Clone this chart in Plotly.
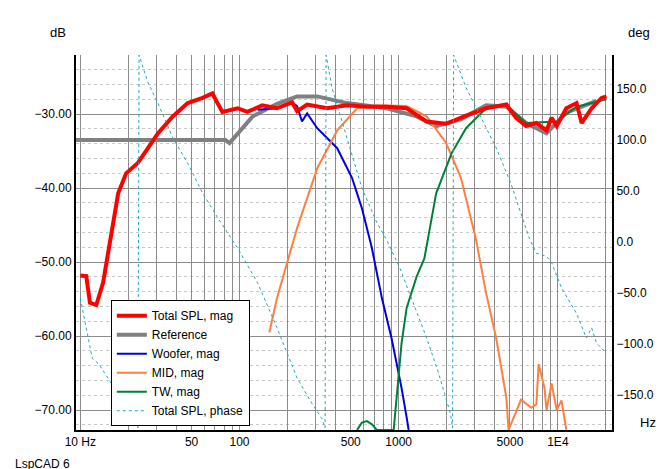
import plotly.graph_objects as go

# frequencies in Hz, levels in dB, phase in degrees
total_f = [10, 10.9, 11.5, 12.6, 13.9, 14.9, 16.1, 17.3, 19.4, 23.0, 26.6, 30.7, 38.1, 47.3, 58.6, 67.6,
           72.8, 78.1, 97.3, 112, 139, 172, 214, 230, 266, 356, 473, 631, 841, 1122, 1499, 1985,
           2650, 3540, 4750, 5460, 6320, 7330, 8480, 9130, 9830, 11300, 13100, 14100, 16300, 18800, 20200]
total_db = [-51.8, -51.9, -55.5, -55.8, -52.8, -48.8, -44.0, -40.7, -38.0, -36.6, -34.6, -32.6, -30.3,
            -28.5, -27.8, -27.2, -28.5, -29.7, -29.2, -29.7, -28.8, -29.2, -28.4, -29.6, -28.7, -29.2,
            -28.8, -29.0, -29.0, -29.2, -31.0, -31.3, -30.2, -29.2, -28.7, -30.5, -31.6, -31.2, -32.2,
            -30.5, -31.6, -29.2, -28.5, -31.2, -29.2, -27.8, -27.6]

ref_f = [9.4, 81.6, 86.6, 121, 172, 230, 308, 473, 841, 1295, 1720, 2460, 3540, 4750, 6320, 8480, 11300, 17500]
ref_db = [-33.5, -33.5, -33.9, -30.3, -28.6, -27.6, -27.6, -28.5, -29.2, -30.3, -31.6, -30.7, -28.8,
          -29.0, -31.2, -32.6, -29.8, -28.2]

woofer_f = [130, 172, 214, 230, 247, 266, 308, 411, 509, 587, 677, 785, 902, 1042, 1122, 1155]
woofer_db = [-29.4, -29.2, -28.4, -28.9, -31.0, -29.9, -31.9, -34.6, -38.6, -42.7, -48.0, -54.9,
             -60.3, -67.0, -71.0, -72.7]

mid_f = [154, 172, 230, 308, 411, 548, 729, 1122, 1499, 1985, 2460, 3050, 3540, 4100, 4750, 4900,
         5870, 6320, 6810, 7330, 7570, 8240, 8480, 9130, 9830, 10540, 11300]
mid_db = [-59.5, -54.9, -45.4, -37.3, -32.2, -29.2, -28.8, -28.9, -30.3, -33.9, -38.6, -46.8, -54.2,
          -60.3, -68.4, -72.7, -68.6, -69.2, -69.7, -69.2, -63.8, -67.0, -70.0, -66.4, -70.0, -68.7, -72.7]

tw_f = [548, 587, 631, 677, 729, 930, 970, 1042, 1122, 1295, 1450, 1720, 2148, 2650, 3540, 4750,
        6320, 9830, 13100, 20200]
tw_db = [-72.7, -71.7, -71.5, -71.9, -72.7, -72.7, -68.4, -61.0, -56.2, -52.0, -49.5, -40.7, -35.3,
         -31.9, -29.2, -28.8, -31.2, -31.0, -29.0, -28.0]

phase_f = [10, 10.9, 11.9, 13, 14.9, 17.8, 20.5, 23.0, 23.4, 26.6, 30.7, 38.1, 47.3, 58.6, 72.8, 97.3,
           130, 172, 230, 285, 330, 345, 350, 381, 473, 587, 729, 841, 1014, 1201, 1499, 1778,
           1985, 2114, 2180, 2214, 2650, 3290, 4100, 5050, 5870, 6600, 7330, 8480, 9130, 10540,
           13100, 15100, 16300, 17500, 20200]
phase_deg = [-55, -84, -114, -119, -133, -153, -168, -182, 183, 156, 136, 102, 77, 48, 24, -6,
             -40, -84, -133, -158, -173, -182, 183, 151, 102, 53, 19, 2, -25, -55, -94, -128,
             -153, -168, -182, 183, 151, 122, 92, 58, 28, 4, -11, -14, -20, -45, -70, -94, -84,
             -99, -109]

x_ticks = [m * 10 ** d for d in range(1, 5) for m in range(1, 10)] + [20000]
x_labels = {10: "10 Hz", 50: "50", 100: "100", 500: "500", 1000: "1000", 5000: "5000", 10000: "1E4"}
x_text = [x_labels.get(v, "") for v in x_ticks]

fig = go.Figure()
fig.add_trace(go.Scatter(x=ref_f, y=ref_db, name="Reference", mode="lines",
                         line=dict(color="#808080", width=4)))
fig.add_trace(go.Scatter(x=woofer_f, y=woofer_db, name="Woofer, mag", mode="lines",
                         line=dict(color="#0000e0", width=2)))
fig.add_trace(go.Scatter(x=mid_f, y=mid_db, name="MID, mag", mode="lines",
                         line=dict(color="#ff7f3f", width=2)))
fig.add_trace(go.Scatter(x=tw_f, y=tw_db, name="TW, mag", mode="lines",
                         line=dict(color="#00803c", width=2)))
fig.add_trace(go.Scatter(x=phase_f, y=phase_deg, name="Total SPL, phase", yaxis="y2", mode="lines",
                         line=dict(color="#20a8b8", width=1, dash="dot")))
# thick total drawn last so it sits on top
fig.add_trace(go.Scatter(x=total_f, y=total_db, name="Total SPL, mag", mode="lines",
                         line=dict(color="#ff0000", width=4)))

# legend order matches reference
order = ["Total SPL, mag", "Reference", "Woofer, mag", "MID, mag", "TW, mag", "Total SPL, phase"]
for tr in fig.data:
    tr.legendrank = order.index(tr.name)

fig.update_layout(
    width=672, height=469,
    margin=dict(l=68, r=68, t=47, b=47),
    paper_bgcolor="white", plot_bgcolor="white",
    font=dict(family="Liberation Sans, Arial", size=12, color="black"),
    showlegend=True,
    legend=dict(x=0.065, y=0.01, xanchor="left", yanchor="bottom", bgcolor="white",
                bordercolor="black", borderwidth=1, font=dict(size=12), tracegroupgap=0),
    xaxis=dict(type="log", range=[0.973, 4.34], tickvals=x_ticks, ticktext=x_text,
               showgrid=True, gridcolor="#8c8c8c", gridwidth=1, showline=True, linecolor="black",
               linewidth=2, ticks="", zeroline=False),
    yaxis=dict(range=[-72.7, -22.0], tickvals=[-30, -40, -50, -60, -70], tickformat=".2f",
               showgrid=True, gridcolor="#8c8c8c", showline=True, linecolor="black", linewidth=2,
               ticks="", zeroline=False,
               minor=dict(dtick=2, showgrid=True, gridcolor="#c8c8c8", griddash="dot")),
    yaxis2=dict(overlaying="y", side="right", range=[-184, 183],
                tickvals=[150, 100, 50, 0, -50, -100, -150], tickformat=".1f",
                showgrid=False, showline=True, linecolor="black", linewidth=2, ticks="",
                zeroline=False),
)

fig.add_annotation(text="dB", x=-0.034, y=1.059, xref="paper", yref="paper", xanchor="center",
                   yanchor="middle", showarrow=False, font=dict(size=13))
fig.add_annotation(text="deg", x=1.05, y=1.059, xref="paper", yref="paper", xanchor="center",
                   yanchor="middle", showarrow=False, font=dict(size=13))
fig.add_annotation(text="Hz", x=1.067, y=0.019, xref="paper", yref="paper", xanchor="center",
                   yanchor="middle", showarrow=False, font=dict(size=13))
fig.add_annotation(text="LspCAD 6", x=-0.118, y=-0.09, xref="paper", yref="paper", xanchor="left",
                   yanchor="middle", showarrow=False, font=dict(size=12))

fig.write_html("out.html")
